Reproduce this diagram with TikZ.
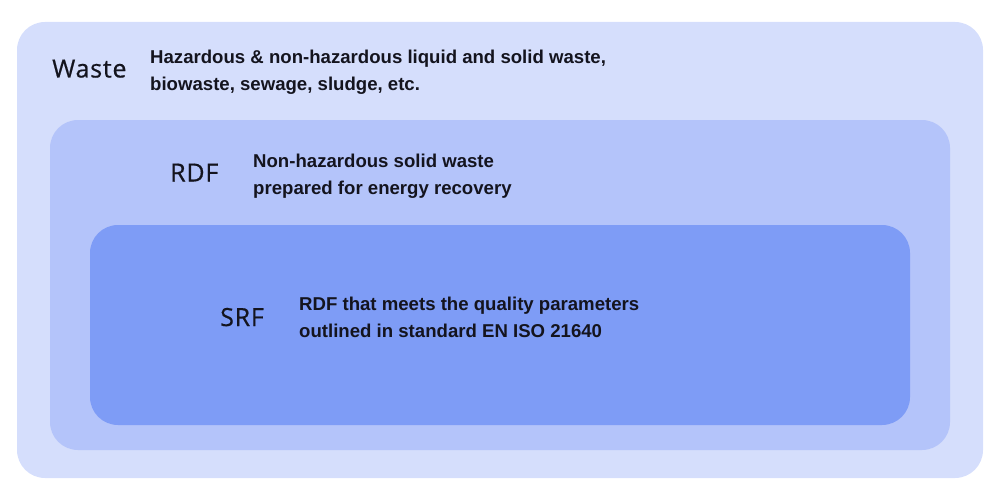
\documentclass[tikz,border=0pt]{standalone}
\usepackage{fontspec}
\setmainfont{Liberation Sans}
\newfontfamily\labelfont{Open Sans}[LetterSpace=3,FakeBold=0.6]
\definecolor{outerc}{RGB}{213,222,252}
\definecolor{midc}{RGB}{180,196,250}
\definecolor{innerc}{RGB}{126,156,246}
\definecolor{textc}{RGB}{20,20,30}
\tikzset{
  box/.style={rounded corners=28pt},
  lbl/.style={anchor=base west, inner sep=0pt, font=\labelfont\fontsize{25pt}{30pt}\selectfont, text=textc},
  desc/.style={anchor=base west, inner sep=0pt, align=left, font=\bfseries\fontsize{18.6pt}{27pt}\selectfont, text=textc},
}
\begin{document}
\begin{tikzpicture}[x=1pt,y=-1pt]
\useasboundingbox (0,0) rectangle (1000,500);
\fill[outerc,box] (17,22) rectangle (983,478);
\fill[midc,box] (50,120) rectangle (950,450);
\fill[innerc,box] (90,225) rectangle (910,425);
\node[lbl] (waste) at (52,77.5) {Waste};
\node[desc] (wasted) at (150,90.5) {Hazardous \& non-hazardous liquid and solid waste,\\biowaste, sewage, sludge, etc.};
\node[lbl] (rdf) at (170,181.5) {RDF};
\node[desc] (rdfd) at (253,194) {Non-hazardous solid waste\\prepared for energy recovery};
\node[lbl] (srf) at (220,326) {SRF};
\node[desc] (srfd) at (299,337) {RDF that meets the quality parameters\\outlined in standard EN ISO 21640};
\end{tikzpicture}
\end{document}
